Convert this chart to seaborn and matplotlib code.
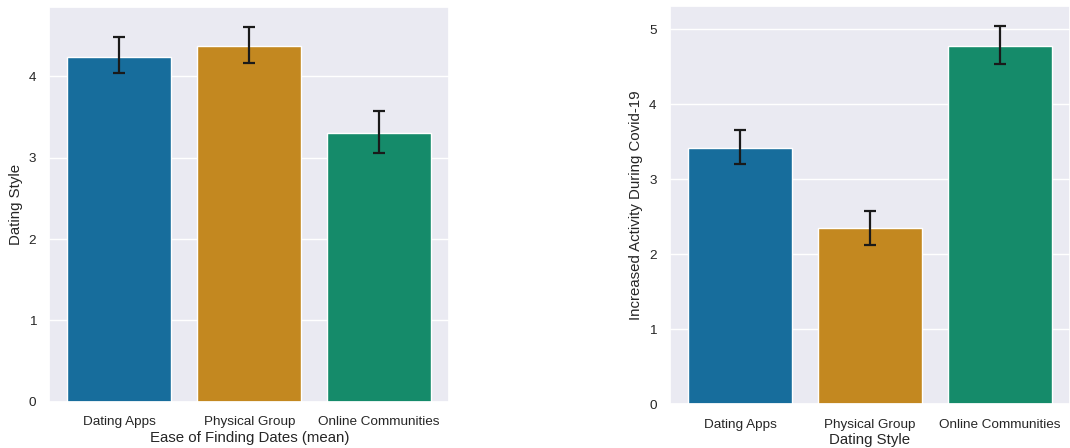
import numpy as np
import pandas as pd
import matplotlib
matplotlib.use("Agg")
import matplotlib.pyplot as plt
import seaborn as sns

categories = ["Dating Apps", "Physical Group", "Online Communities"]

# Ease of finding dates: mean and confidence interval bounds
ease_mean = [4.24, 4.37, 3.30]
ease_low = [4.04, 4.16, 3.06]
ease_high = [4.48, 4.61, 3.57]

# Increased activity during Covid-19: mean and confidence interval bounds
covid_mean = [3.42, 2.35, 4.77]
covid_low = [3.20, 2.12, 4.53]
covid_high = [3.66, 2.58, 5.04]

sns.set_theme(style="darkgrid")
plt.rcParams["font.family"] = ["Liberation Sans", "DejaVu Sans"]

fig = plt.figure(figsize=(10.7, 4.48), dpi=100)
ax1 = fig.add_axes([0.046, 0.103, 0.374, 0.881])
ax2 = fig.add_axes([0.626, 0.098, 0.374, 0.889])


def draw(ax, mean, low, high, xlabel, ylabel, ytop):
    df = pd.DataFrame({"style": categories, "value": mean})
    sns.barplot(data=df, x="style", y="value", hue="style", palette="colorblind",
                legend=False, errorbar=None, ax=ax)
    m = np.array(mean)
    yerr = np.vstack([m - np.array(low), np.array(high) - m])
    ax.errorbar(np.arange(len(categories)), m, yerr=yerr, fmt="none",
                ecolor="#1a1a1a", elinewidth=1.6, capsize=4, capthick=1.6)
    ax.set_ylim(0, ytop)
    ax.set_xlabel(xlabel, fontsize=10.8, labelpad=2)
    ax.set_ylabel(ylabel, fontsize=10.8)
    ax.tick_params(axis="both", labelsize=9.7)
    ax.tick_params(axis="x", pad=4.5)


draw(ax1, ease_mean, ease_low, ease_high,
     "Ease of Finding Dates (mean)", "Dating Style", 4.85)
draw(ax2, covid_mean, covid_low, covid_high,
     "Dating Style", "Increased Activity During Covid-19", 5.31)

fig.savefig("out.png", dpi=100)
